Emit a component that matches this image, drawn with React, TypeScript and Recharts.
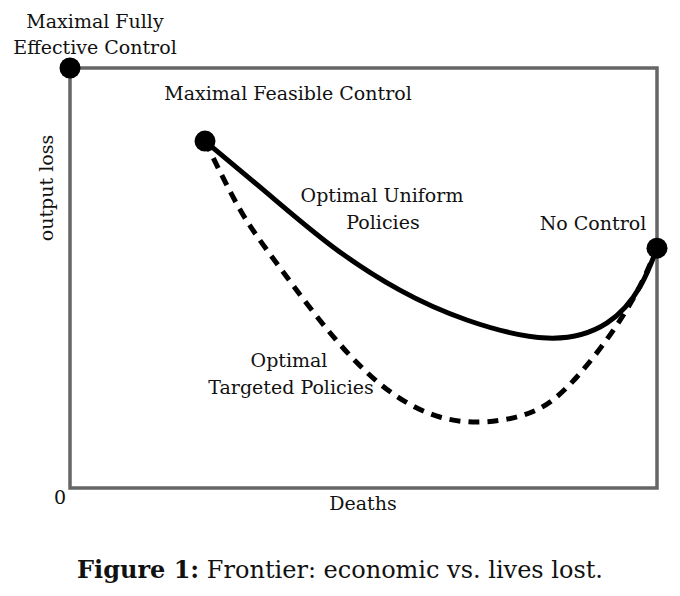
import React from "react";
import {
  ComposedChart,
  Line,
  Scatter,
  XAxis,
  YAxis,
  ReferenceArea,
} from "recharts";

// Deaths (x, 0-100) vs output loss (y, 0-100)
const uniformDeaths = [23.0, 33.6, 44.8, 56.2, 67.6, 81.3, 91.5, 97.1, 100];
const uniformLoss = [82.6, 70.2, 57.4, 47.1, 40.0, 35.7, 39.3, 47.9, 57.1];

const targetedDeaths = [23.0, 29.0, 35.8, 48.9, 63.0, 75.5, 84.7, 94.5, 100];
const targetedLoss = [82.6, 66.2, 52.4, 29.8, 16.9, 16.7, 24.0, 41.7, 57.1];

const pointNames = ["Maximal Fully Effective Control", "Maximal Feasible Control", "No Control"];
const pointDeaths = [0, 23.0, 100];
const pointLoss = [100, 82.6, 57.1];

const xAxisLabel = "Deaths";
const yAxisLabel = "output loss";
const originLabel = "0";

const uniformData = uniformDeaths.map((x, i) => ({ x, y: uniformLoss[i] }));
const targetedData = targetedDeaths.map((x, i) => ({ x, y: targetedLoss[i] }));
const pointData = pointDeaths.map((x, i) => ({ x, y: pointLoss[i], name: pointNames[i] }));

const FONT = "'DejaVu Serif', serif";

const labelStyle = (left: number, top: number, size = 19): React.CSSProperties => ({
  position: "absolute",
  left,
  top,
  transform: "translate(-50%, -50%)",
  fontFamily: FONT,
  fontSize: size,
  color: "#111",
  whiteSpace: "nowrap",
  lineHeight: 1,
});

const Dot = (props: any) => {
  const { cx, cy } = props;
  return <circle cx={cx} cy={cy} r={10.5} fill="#000" />;
};

export default function App() {
  return (
    <div style={{ position: "absolute", left: 0, top: 0, width: 680, height: 596, background: "#fff" }}>
      <ComposedChart
        width={680}
        height={530}
        margin={{ top: 68, right: 23, bottom: 42, left: 70 }}
      >
        <XAxis type="number" dataKey="x" domain={[0, 100]} hide />
        <YAxis type="number" dataKey="y" domain={[0, 100]} hide />
        <ReferenceArea
          x1={0}
          x2={100}
          y1={0}
          y2={100}
          fill="none"
          stroke="#666"
          strokeWidth={3.5}
          ifOverflow="visible"
        />
        <Line
          data={targetedData}
          dataKey="y"
          type="natural"
          stroke="#000"
          strokeWidth={5}
          strokeDasharray="11 8"
          dot={false}
          activeDot={false}
          isAnimationActive={false}
        />
        <Line
          data={uniformData}
          dataKey="y"
          type="natural"
          stroke="#000"
          strokeWidth={5}
          dot={false}
          activeDot={false}
          isAnimationActive={false}
        />
        <Scatter data={pointData} dataKey="y" shape={<Dot />} isAnimationActive={false} />
      </ComposedChart>

      <div style={labelStyle(95, 21)}>Maximal Fully</div>
      <div style={labelStyle(95, 47)}>Effective Control</div>
      <div style={labelStyle(288, 93)}>Maximal Feasible Control</div>
      <div style={labelStyle(382, 195)}>Optimal Uniform</div>
      <div style={labelStyle(383, 222)}>Policies</div>
      <div style={labelStyle(593, 223)}>No Control</div>
      <div style={labelStyle(289, 360)}>Optimal</div>
      <div style={labelStyle(291, 387)}>Targeted Policies</div>
      <div style={{ ...labelStyle(46, 188), transform: "translate(-50%, -50%) rotate(-90deg)" }}>{yAxisLabel}</div>
      <div style={labelStyle(60, 497)}>{originLabel}</div>
      <div style={labelStyle(363, 503)}>{xAxisLabel}</div>
      <div style={labelStyle(340, 570, 24)}>
        <b>Figure 1:</b> Frontier: economic vs. lives lost.
      </div>
    </div>
  );
}
